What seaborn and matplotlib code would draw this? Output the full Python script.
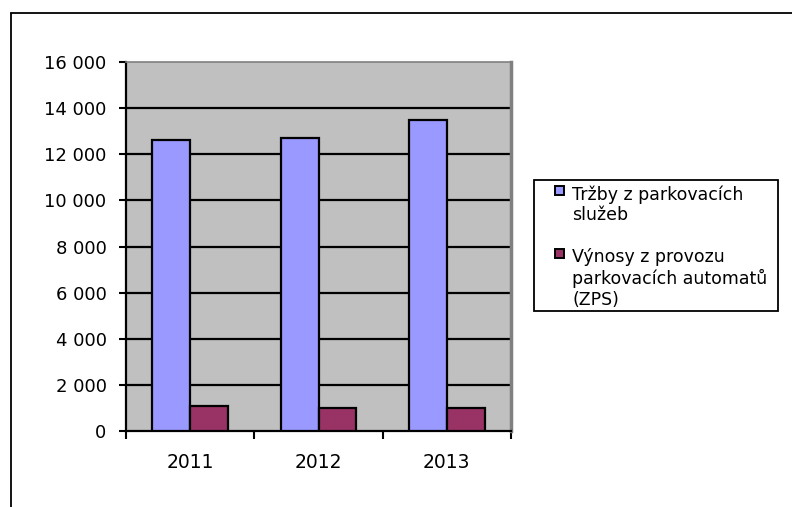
import matplotlib
matplotlib.use("Agg")
import matplotlib.pyplot as plt
import matplotlib.ticker as mticker
from matplotlib.patches import Rectangle
from matplotlib.lines import Line2D
import seaborn as sns
import pandas as pd

years = ["2011", "2012", "2013"]
series_names = ["Tržby z parkovacích\nslužeb", "Výnosy z provozu\nparkovacích automatů\n(ZPS)"]
trzby = [12620, 12700, 13500]
vynosy = [1100, 1000, 1000]
colors = ["#9999FF", "#993366"]
y_ticks = [0, 2000, 4000, 6000, 8000, 10000, 12000, 14000, 16000]

df = pd.DataFrame({
    "year": years * 2,
    "series": [series_names[0]] * 3 + [series_names[1]] * 3,
    "value": trzby + vynosy,
})

sns.set_style("white")
plt.rcParams["font.family"] = ["DejaVu Sans"]
plt.rcParams["text.color"] = "black"
plt.rcParams["xtick.labelcolor"] = "black"
plt.rcParams["ytick.labelcolor"] = "black"

W, H = 792, 507
fig = plt.figure(figsize=(W / 100, H / 100), dpi=100)
ax = fig.add_axes([126 / W, 1 - 431 / H, (511 - 126) / W, (431 - 62) / H])
ax.set_facecolor("#C0C0C0")

sns.barplot(data=df, x="year", y="value", hue="series", palette=colors,
            saturation=1, width=0.59, edgecolor="black", linewidth=1.6,
            legend=False, ax=ax, zorder=3)

ax.set_xlim(-0.5, 2.5)
ax.set_ylim(0, 16000)
ax.set_xlabel("")
ax.set_ylabel("")

ax.yaxis.set_major_locator(mticker.FixedLocator(y_ticks))
ax.yaxis.set_major_formatter(mticker.FuncFormatter(lambda v, p: f"{int(v):,}".replace(",", " ")))
ax.tick_params(axis="y", which="major", direction="out", length=5, width=1.5,
               color="black", labelcolor="black", labelsize=13, pad=9, left=True)
ax.xaxis.set_minor_locator(mticker.FixedLocator([-0.5, 0.5, 1.5, 2.5]))
ax.tick_params(axis="x", which="major", length=0, labelsize=13.5, labelcolor="black", pad=16)
ax.tick_params(axis="x", which="minor", direction="out", length=6, width=1.5,
               color="black", bottom=True)

ax.set_axisbelow(True)
ax.yaxis.grid(True, color="black", linewidth=1.6)
gl = ax.get_ygridlines()
gl[0].set_visible(False)
gl[-1].set_visible(False)

for s in ["left", "bottom"]:
    ax.spines[s].set_color("black")
    ax.spines[s].set_linewidth(1.6)
ax.spines["top"].set_color("#808080")
ax.spines["top"].set_linewidth(1.2)
ax.spines["right"].set_color("#808080")
ax.spines["right"].set_linewidth(2.5)

# outer chart frame (top and left edges)
fig.add_artist(Line2D([11 / W, 1.0], [1 - 13 / H, 1 - 13 / H], color="black", lw=1.3,
                      transform=fig.transFigure))
fig.add_artist(Line2D([11 / W, 11 / W], [0, 1 - 13 / H], color="black", lw=1.3,
                      transform=fig.transFigure))

# legend
lx0, lx1, ly0, ly1 = 534, 778, 180, 311
fig.add_artist(Rectangle((lx0 / W, 1 - ly1 / H), (lx1 - lx0) / W, (ly1 - ly0) / H,
                         transform=fig.transFigure, facecolor="white", edgecolor="black", lw=1.3))
entry_tops = [185, 248]
for name, col, top in zip(series_names, colors, entry_tops):
    fig.add_artist(Rectangle((555 / W, 1 - (top + 10) / H), 9 / W, 9 / H,
                             transform=fig.transFigure, facecolor=col, edgecolor="black", lw=1.4))
    fig.text(572 / W, 1 - top / H, name, ha="left", va="top", fontsize=12.5,
             linespacing=1.2, color="black")

fig.savefig("out.png", dpi=100)
